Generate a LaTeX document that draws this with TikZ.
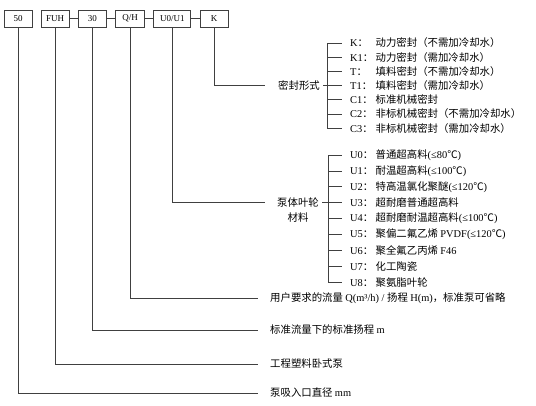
\documentclass[tikz,border=0pt]{standalone}
\usepackage{fontspec}
\setmainfont{Noto Sans CJK SC}
\newfontfamily\lat{Liberation Serif}
\usetikzlibrary{positioning}
\newcommand{\code}[1]{\makebox[25.5pt][l]{{\lat #1}：}}

\begin{document}
\begin{tikzpicture}[
    x=1pt, y=-1pt,
    node distance=8.5pt,
    codebox/.style={draw=black!75, line width=0.7pt, minimum width=28pt, minimum height=17pt, inner sep=0pt, font=\lat\fontsize{9}{10}\selectfont},
    item/.style={anchor=west, inner sep=0pt, font=\fontsize{10.4}{12}\selectfont},
    link/.style={draw=black!75, line width=0.7pt}
]
\useasboundingbox (0,0) rectangle (536,405);

% Model code
\node[codebox] (dia) at (18,18.5) {50};
\node[codebox, right=of dia] (fuh) {FUH};
\node[codebox, right=of fuh] (head) {30};
\node[codebox, right=of head, minimum width=29pt] (qh) {Q/H};
\node[codebox, right=of qh, minimum width=37pt] (mat) {U0/U1};
\node[codebox, right=of mat] (sealbox) {K};

\draw[link] (fuh) -- (head) -- (qh) -- (mat) -- (sealbox);

% Seal types
\foreach \i/\t in {
    1/{\code{K}动力密封（不需加冷却水）},
    2/{\code{K1}动力密封（需加冷却水）},
    3/{\code{T}填料密封（不需加冷却水）},
    4/{\code{T1}填料密封（需加冷却水）},
    5/{\code{C1}标准机械密封},
    6/{\code{C2}非标机械密封（不需加冷却水）},
    7/{\code{C3}非标机械密封（需加冷却水）}}
    \node[item] (s\i) at (350, {43+14.2*(\i-1)}) {\t};
\node[item] (sealtitle) at (278, {43+14.2*3}) {密封形式};
\coordinate (sealbar) at (327,0);

% Body and impeller materials
\foreach \i/\t in {
    0/{\code{U0}普通超高料{\lat (≤80}℃{\lat )}},
    1/{\code{U1}耐温超高料{\lat (≤100}℃{\lat )}},
    2/{\code{U2}特高温氯化聚醚{\lat (≤120}℃{\lat )}},
    3/{\code{U3}超耐磨普通超高料},
    4/{\code{U4}超耐磨耐温超高料{\lat (≤100}℃{\lat )}},
    5/{\code{U5}聚偏二氟乙烯 {\lat PVDF(≤120}℃{\lat )}},
    6/{\code{U6}聚全氟乙丙烯 {\lat F46}},
    7/{\code{U7}化工陶瓷},
    8/{\code{U8}聚氨脂叶轮}}
    \node[item] (m\i) at (350, {155+15.9*\i}) {\t};
\node[item] (mattitle) at (277, {155+15.9*3}) {泵体叶轮};
\node[inner sep=0pt, font=\fontsize{10.4}{12}\selectfont, below=5pt of mattitle] (matsub) {材料};
\coordinate (matbar) at (328,0);

% Other code meanings
\node[item] (qhlabel) at (270,298) {用户要求的流量 {\lat Q(m³/h) / }扬程 {\lat H(m)}，标准泵可省略};
\node[item] (headlabel) at (270,330) {标准流量下的标准扬程 {\lat m}};
\node[item] (fuhlabel) at (270,364) {工程塑料卧式泵};
\node[item] (dialabel) at (270,393) {泵吸入口直径 {\lat mm}};

% Leaders
\draw[link] (sealbox.south) |- ([xshift=-13pt]sealtitle.west);
\draw[link] (mat.south) |- ([xshift=-12pt]mattitle.west);
\draw[link] (qh.south) |- ([xshift=-12pt]qhlabel.west);
\draw[link] (head.south) |- ([xshift=-12pt]headlabel.west);
\draw[link] (fuh.south) |- ([xshift=-12pt]fuhlabel.west);
\draw[link] (dia.south) |- ([xshift=-12pt]dialabel.west);

% Brackets
\draw[link] (s1.west -| sealbar) -- (s7.west -| sealbar);
\foreach \i in {1,...,7}
    \draw[link] (s\i.west -| sealbar) -- ([xshift=-8pt]s\i.west);
\draw[link] ([xshift=3pt]sealtitle.east) -- (sealtitle.east -| sealbar);

\draw[link] (m0.west -| matbar) -- (m8.west -| matbar);
\foreach \i in {0,...,8}
    \draw[link] (m\i.west -| matbar) -- ([xshift=-8pt]m\i.west);
\draw[link] ([xshift=3pt]mattitle.east) -- (mattitle.east -| matbar);

\end{tikzpicture}
\end{document}
